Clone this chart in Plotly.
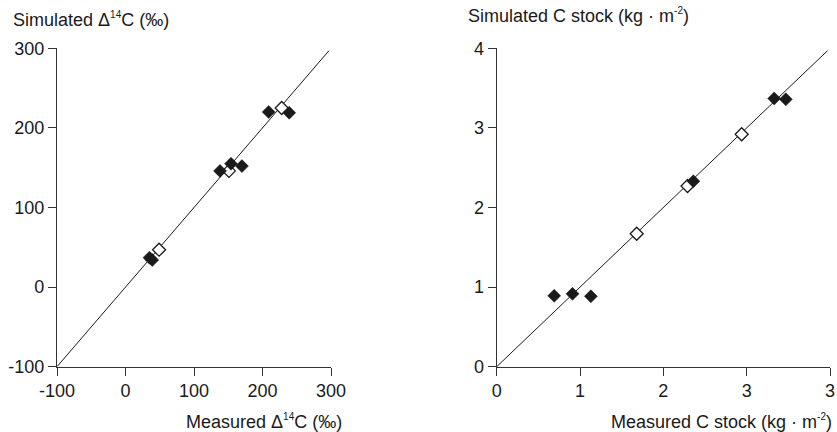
import plotly.graph_objects as go

W, H = 837, 432

# Left panel: Δ14C (‰)
d14_open_x = [49, 151, 228]
d14_open_y = [47, 146, 225]
d14_fill_x = [35, 39, 138, 154, 170, 209, 239]
d14_fill_y = [37, 34, 146, 155, 152, 220, 219]
d14_line = [-100, 297]
d14_ticks = [-100, 0, 100, 200, 300]
d14_ticktext = ["-100", "0", "100", "200", "300"]

# Right panel: C stock (kg·m-2)
cs_open_x = [1.68, 2.29, 2.94]
cs_open_y = [1.67, 2.27, 2.92]
cs_fill_x = [0.69, 0.91, 1.13, 2.36, 3.33, 3.47]
cs_fill_y = [0.89, 0.915, 0.885, 2.33, 3.37, 3.36]
cs_line = [0, 3.97]
cs_xticks = [0, 1, 2, 3, 4]
cs_xticktext = ["0", "1", "2", "3", "3"]
cs_yticks = [0, 1, 2, 3, 4]
cs_yticktext = ["0", "1", "2", "3", "4"]

FONT = "Liberation Sans, Arial, sans-serif"
INK = "#1a1a1a"

fig = go.Figure()

def add_panel(xa, ya, line, ox, oy, fx, fy):
    fig.add_trace(go.Scatter(x=line, y=line, mode="lines",
                             line=dict(color=INK, width=1),
                             xaxis=xa, yaxis=ya, hoverinfo="skip"))
    fig.add_trace(go.Scatter(x=ox, y=oy, mode="markers",
                             marker=dict(symbol="diamond", size=10, color="white",
                                         line=dict(color=INK, width=1.3)),
                             xaxis=xa, yaxis=ya, cliponaxis=False))
    fig.add_trace(go.Scatter(x=fx, y=fy, mode="markers",
                             marker=dict(symbol="diamond", size=10, color=INK,
                                         line=dict(color=INK, width=0.5)),
                             xaxis=xa, yaxis=ya, cliponaxis=False))

add_panel("x", "y", d14_line, d14_open_x, d14_open_y, d14_fill_x, d14_fill_y)
add_panel("x2", "y2", cs_line, cs_open_x, cs_open_y, cs_fill_x, cs_fill_y)

ydom = [(H - 366.7) / H, (H - 48.3) / H]
axis_common = dict(showline=True, linecolor="#333", linewidth=1.2, ticks="outside",
                   ticklen=8, tickwidth=1.2, tickcolor="#333", showgrid=False,
                   zeroline=False, tickfont=dict(family=FONT, size=18, color=INK),
                   automargin=False)

fig.update_layout(
    width=W, height=H,
    margin=dict(l=0, r=0, t=0, b=0),
    paper_bgcolor="white", plot_bgcolor="white",
    showlegend=False,
    xaxis=dict(domain=[57 / W, 331 / W], range=[-100, 300], tickvals=d14_ticks,
               ticktext=d14_ticktext, anchor="y", **axis_common),
    yaxis=dict(domain=ydom, range=[-100, 300], tickvals=d14_ticks,
               ticktext=d14_ticktext, anchor="x", **axis_common),
    xaxis2=dict(domain=[496.7 / W, 830 / W], range=[0, 4], tickvals=cs_xticks,
                ticktext=cs_xticktext, anchor="y2", **axis_common),
    yaxis2=dict(domain=ydom, range=[0, 4], tickvals=cs_yticks,
                ticktext=cs_yticktext, anchor="x2", **axis_common),
)

def label(text, x, y, xanchor):
    fig.add_annotation(text=text, xref="paper", yref="paper",
                       x=x / W, y=1 - y / H, xanchor=xanchor, yanchor="middle",
                       showarrow=False, font=dict(family=FONT, size=18, color=INK))

SUP14 = '<sup><span style="font-size:10px">14</span></sup>'
SUPM2 = '<sup><span style="font-size:10px">-2</span></sup>'
label(f"Simulated Δ{SUP14}C (‰)", 11, 20, "left")
label(f"Measured Δ{SUP14}C (‰)", 344, 421, "right")
label(f"Simulated C stock (kg · m{SUPM2})", 466, 16, "left")
label(f"Measured C stock (kg · m{SUPM2})", 834, 421, "right")

fig.write_html("out.html",
               config={"displayModeBar": False},
               post_script="document.body.style.margin='0';document.body.style.overflow='hidden';")
